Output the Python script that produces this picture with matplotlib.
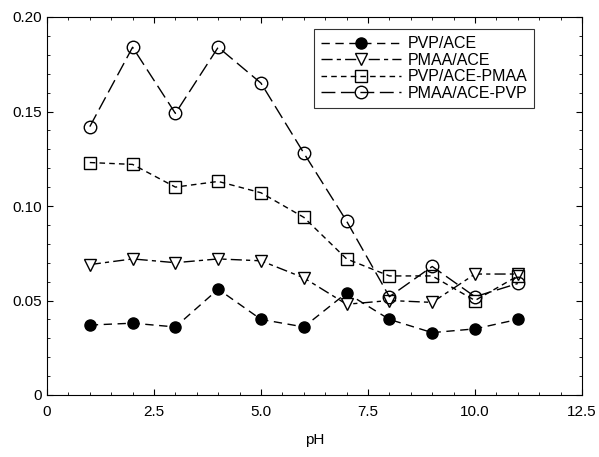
import matplotlib
matplotlib.use("Agg")
import matplotlib.pyplot as plt
from matplotlib.ticker import MultipleLocator, FixedLocator

plt.rcParams['font.family'] = ['Liberation Sans', 'DejaVu Sans']

ph = [1, 2, 3, 4, 5, 6, 7, 8, 9, 10, 11]
pvp_ace = [0.037, 0.038, 0.036, 0.056, 0.040, 0.036, 0.054, 0.040, 0.033, 0.035, 0.040]
pmaa_ace = [0.069, 0.072, 0.070, 0.072, 0.071, 0.062, 0.048, 0.050, 0.049, 0.064, 0.064]
pvp_ace_pmaa = [0.123, 0.122, 0.110, 0.113, 0.107, 0.094, 0.072, 0.063, 0.063, 0.050, 0.063]
pmaa_ace_pvp = [0.142, 0.184, 0.149, 0.184, 0.165, 0.128, 0.092, 0.052, 0.068, 0.052, 0.059]

fig = plt.figure(figsize=(5.99, 4.57), dpi=100)
ax = fig.add_axes([47/599, 1 - 395/457, 535/599, 378/457])

ax.plot(ph, pvp_ace, color='black', lw=1, linestyle=(0, (6, 4)),
        marker='o', ms=8, mfc='black', mec='black', label='PVP/ACE')
ax.plot(ph, pmaa_ace, color='black', lw=1, linestyle=(0, (8, 3, 3, 3)),
        marker='v', ms=9, mfc='white', mec='black', label='PMAA/ACE')
ax.plot(ph, pvp_ace_pmaa, color='black', lw=1, linestyle=(0, (4, 3)),
        marker='s', ms=9, mfc='none', mec='black', label='PVP/ACE-PMAA')
ax.plot(ph, pmaa_ace_pvp, color='black', lw=1, linestyle=(0, (10, 4)),
        marker='o', ms=9, mfc='none', mec='black', label='PMAA/ACE-PVP')

ax.set_xlim(0, 12.5)
ax.set_ylim(0, 0.20)
ax.xaxis.set_major_locator(FixedLocator([0, 2.5, 5, 7.5, 10, 12.5]))
ax.set_xticklabels(['0', '2.5', '5.0', '7.5', '10.0', '12.5'])
ax.xaxis.set_minor_locator(MultipleLocator(0.5))
ax.yaxis.set_major_locator(FixedLocator([0, 0.05, 0.10, 0.15, 0.20]))
ax.set_yticklabels(['0', '0.05', '0.10', '0.15', '0.20'])
ax.yaxis.set_minor_locator(MultipleLocator(0.01))
ax.tick_params(which='both', direction='in', top=True, right=True, labelsize=11)
ax.tick_params(which='major', length=4)
ax.tick_params(which='minor', length=2)
ax.tick_params(axis='x', pad=7)

ax.set_xlabel('pH', fontsize=11, labelpad=10)

leg = ax.legend(loc='upper left', bbox_to_anchor=((314 - 47) / 535, (395 - 29) / 378),
                borderaxespad=0, fontsize=11.5, handlelength=5, frameon=True, fancybox=False,
                edgecolor='black', borderpad=0.45, labelspacing=0.1, handletextpad=0.4)
leg.get_frame().set_linewidth(0.8)

plt.savefig('out.png', dpi=100)
